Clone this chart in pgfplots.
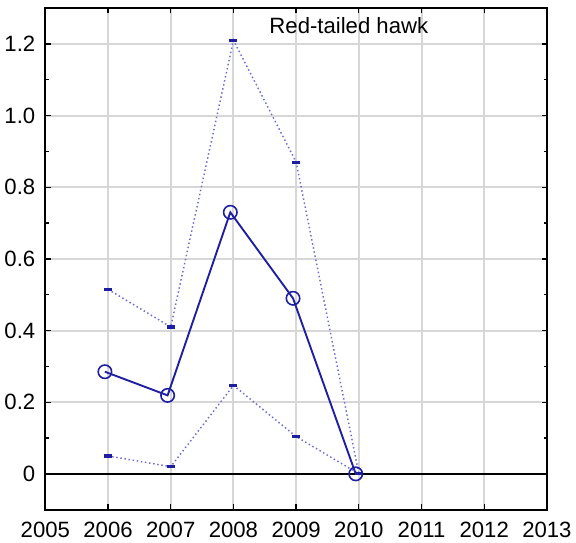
\documentclass[border=0pt]{standalone}
\usepackage{fontspec}
\setmainfont{Liberation Sans}
\usepackage{pgfplots}
\pgfplotsset{compat=1.18}

\definecolor{mainblue}{RGB}{30,30,160}
\definecolor{ciblue}{RGB}{110,110,210}
\definecolor{gridgray}{RGB}{215,215,215}

\begin{document}
\begin{tikzpicture}
\begin{axis}[
    scale only axis,
    width=374pt, height=374pt,
    xmin=2005, xmax=2013,
    ymin=-0.1, ymax=1.3,
    xtick={2005,...,2013},
    ytick={0,0.2,0.4,0.6,0.8,1.0,1.2},
    yticklabels={0,0.2,0.4,0.6,0.8,1.0,1.2},
    xticklabel style={/pgf/number format/1000 sep=},
    minor x tick num=3,
    minor y tick num=1,
    tick align=inside,
    major tick length=4pt,
    minor tick length=2.5pt,
    tick style={black, line width=1pt},
    grid=major,
    major grid style={gridgray, line width=1.5pt},
    axis line style={black, line width=1.3pt},
    ticklabel style={font=\fontsize{16.5}{19}\selectfont},
    xticklabel style={yshift=-6pt},
    yticklabel style={xshift=-4pt},
    /pgf/number format/assume math mode=true,
    clip=false,
]
% zero line
\addplot[black, line width=1.3pt, forget plot] coordinates {(2005,0) (2013,0)};
% upper bound
\addplot[ciblue, dotted, line width=1.1pt, mark=-, mark size=3pt,
    mark options={solid, mainblue, line width=2.4pt}] coordinates {
    (2006,0.515) (2007,0.41) (2008,1.21) (2009,0.87) (2010,0.0)};
% lower bound
\addplot[ciblue, dotted, line width=1.1pt, mark=-, mark size=3pt,
    mark options={solid, mainblue, line width=2.4pt}] coordinates {
    (2006,0.05) (2007,0.02) (2008,0.247) (2009,0.104) (2010,0.0)};
% mean
\addplot[mainblue, line width=1.4pt, mark=o, mark size=5pt,
    mark options={solid, line width=1.2pt}] coordinates {
    (2005.95,0.285) (2006.95,0.219) (2007.95,0.73) (2008.95,0.49) (2009.95,0.0)};
\node[font=\fontsize{16.5}{19}\selectfont] at (rel axis cs:0.605,0.966) {Red-tailed hawk};
\end{axis}
\path ([yshift=6pt]current axis.north);
\end{tikzpicture}
\end{document}
